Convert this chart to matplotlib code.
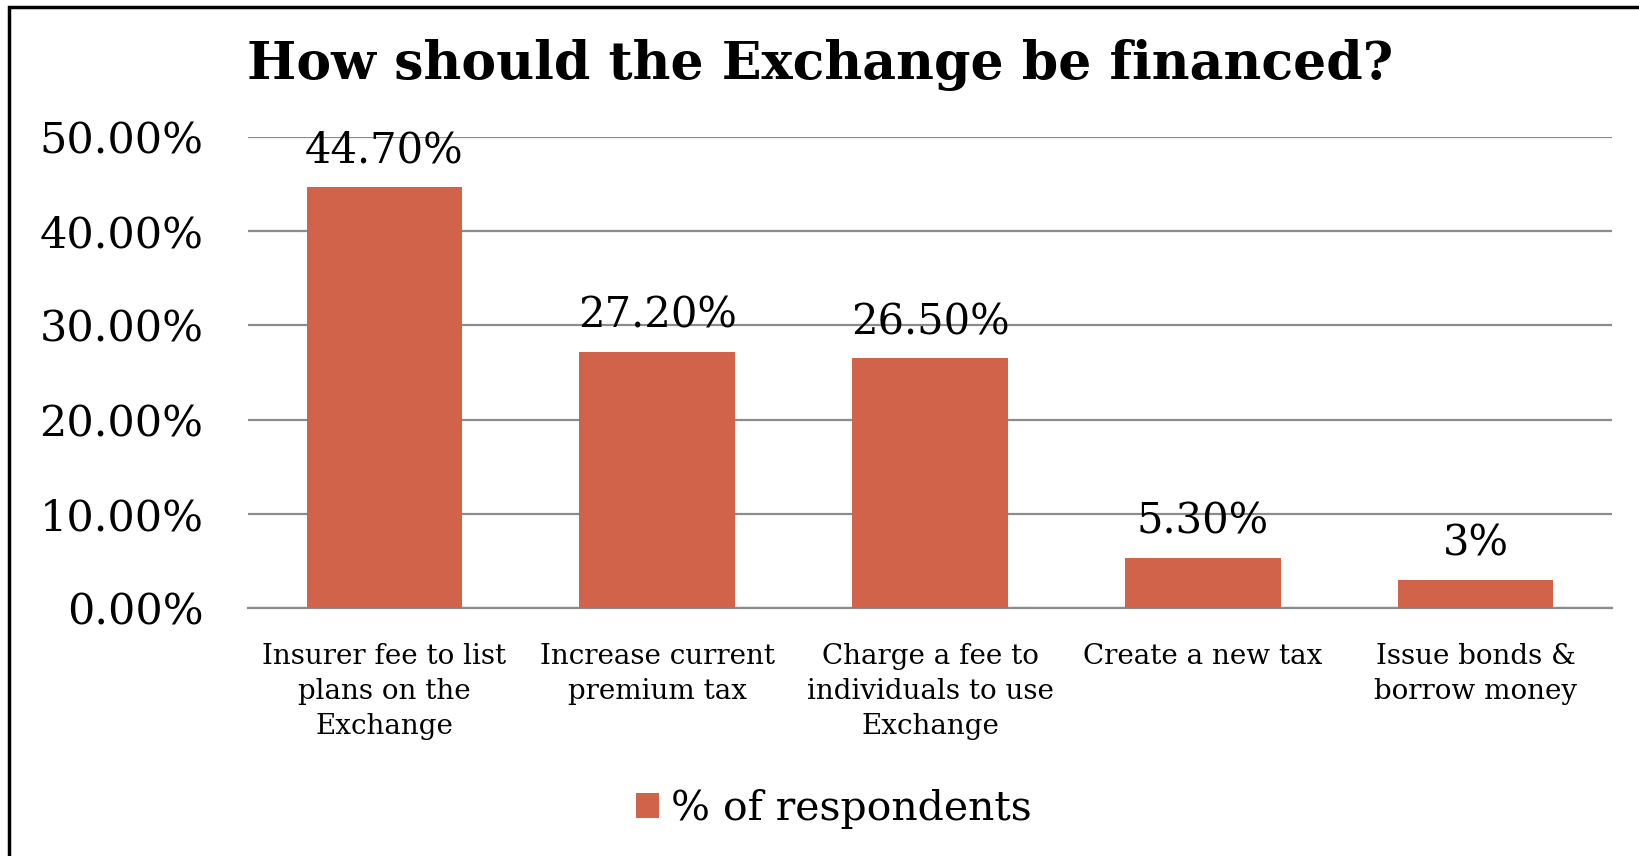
import matplotlib.pyplot as plt
from matplotlib.patches import Rectangle
from matplotlib.ticker import FuncFormatter, MultipleLocator

# ------------------------------------------------------------------
# Survey data
# ------------------------------------------------------------------

categories = [
    "Insurer fee to list\nplans on the\nExchange",
    "Increase current\npremium tax",
    "Charge a fee to\nindividuals to use\nExchange",
    "Create a new tax",
    "Issue bonds &\nborrow money",
]
respondents_pct = [44.7, 27.2, 26.5, 5.3, 3.0]
value_labels = ["44.70%", "27.20%", "26.50%", "5.30%", "3%"]

TITLE = "How should the Exchange be financed?"
SERIES_NAME = "% of respondents"

BAR_COLOR = "#D1634A"
GRID_COLOR = "#8C8C8C"

plt.rcParams["font.family"] = ["DejaVu Serif"]

W, H = 1640, 856
fig = plt.figure(figsize=(W / 100, H / 100), dpi=100)

ax = fig.add_axes([248 / W, 1 - 608 / H, (1612 - 248) / W, (608 - 137) / H])

x = list(range(len(categories)))
ax.bar(x, respondents_pct, width=0.57, color=BAR_COLOR, zorder=3,
       label=SERIES_NAME)

for xi, v, lab in zip(x, respondents_pct, value_labels):
    ax.annotate(lab, (xi, v), xytext=(0, 11), textcoords="offset points",
                ha="center", va="bottom", fontsize=30, zorder=4)

ax.set_xlim(-0.5, len(categories) - 0.5)
ax.set_ylim(0, 50)
ax.yaxis.set_major_locator(MultipleLocator(10))
ax.yaxis.set_major_formatter(FuncFormatter(lambda v, _: f"{v:.2f}%"))
ax.grid(axis="y", color=GRID_COLOR, linewidth=1.6, zorder=0)
ax.set_axisbelow(True)

ax.set_xticks(x)
ax.set_xticklabels(categories, fontsize=20, linespacing=1.38)
ax.tick_params(axis="x", length=0, pad=25)
ax.tick_params(axis="y", length=0, pad=32, labelsize=31)

for side in ["top", "right", "left"]:
    ax.spines[side].set_visible(False)
ax.spines["bottom"].set_color(GRID_COLOR)
ax.spines["bottom"].set_linewidth(1.6)

fig.text(0.5, 1 - 65 / H, TITLE, ha="center", va="center",
         fontsize=37.5, fontweight="bold")

fig.legend(loc="center", bbox_to_anchor=(0.5085, 1 - 809 / H), frameon=False,
           fontsize=29.5, handlelength=0.55, handleheight=0.55,
           handletextpad=0.3)

# outer frame, open past the right and bottom edges
fig.patches.append(Rectangle((9 / W, -0.1), 1.2, 1 - 7 / H + 0.1,
                             transform=fig.transFigure, fill=False,
                             edgecolor="black", linewidth=2.5))

fig.savefig("out.png", dpi=100)
